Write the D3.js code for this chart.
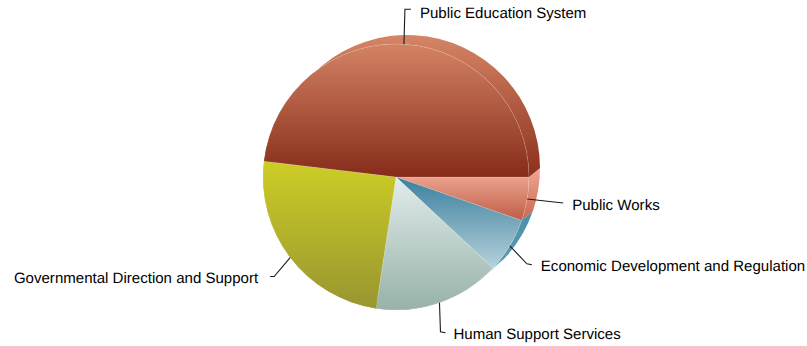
<!DOCTYPE html>
<html>
<head>
<meta charset="utf-8">
<script src="https://cdn.jsdelivr.net/npm/d3@7/dist/d3.min.js"></script>
<style>
html,body{margin:0;padding:0;background:#fff}
svg{display:block}
text{font-family:"Liberation Sans",Arial,sans-serif;font-size:15.05px;fill:#000;text-rendering:geometricPrecision}
</style>
</head>
<body>
<svg id="chart" width="807" height="346"></svg>
<script>
// Budget share by function, in percent, clockwise from three o'clock
const categories = ["Public Works", "Economic Development and Regulation", "Human Support Services", "Governmental Direction and Support", "Public Education System"];
const shares = [5.3, 6.7, 15.4, 24.5, 48.1];

// Face gradients [top, bottom] and extruded side gradients [top, bottom]
const faceColors = [["#EBA28C", "#C05C45"], ["#3A7F9E", "#B6D1DB"], ["#E1ECEB", "#97B2A8"], ["#CDCD26", "#989630"], ["#D48264", "#862C19"]];
const sideColors = [["#F0A792", "#C8694F"], ["#4A8EAB", "#5E9BB5"], ["#DCE8E6", "#A0B9B0"], ["#C8C92A", "#9C9A30"], ["#D68566", "#8A2F1B"]];

const width = 807, height = 346;
const cx = 396, cy = 177, radius = 133;
const depthX = 11, depthY = -9;

// Elbow and end of each leader, relative to where it leaves the pie
const leaderBend = [[36, 4], [17, 18], [1, 29], [-16, 19], [1, -35]];
const leaderEnd = [[36, 4], [22, 19], [6, 30], [-20, 19], [7, -35]];
const labelGap = [9, 9, 8, -12, 9];
const labelDrop = [7, 6.7, 6.5, 6.7, 8.5];

const svg = d3.select("#chart");
const defs = svg.append("defs");

function gradient(id, colors) {
  const g = defs.append("linearGradient").attr("id", id)
    .attr("x1", 0).attr("y1", 0).attr("x2", 0).attr("y2", 1);
  g.append("stop").attr("offset", 0).attr("stop-color", colors[0]);
  g.append("stop").attr("offset", 1).attr("stop-color", colors[1]);
}
faceColors.forEach((c, i) => gradient("face" + i, c));
sideColors.forEach((c, i) => gradient("side" + i, c));

const pie = d3.pie().sort(null).startAngle(Math.PI / 2).endAngle(Math.PI * 2.5);
const slices = pie(shares);
const arc = d3.arc().innerRadius(0).outerRadius(radius);

const onRim = (a, ox = 0, oy = 0) => [cx + ox + radius * Math.sin(a), cy + oy - radius * Math.cos(a)];

// Outer wall of a slice: the rim pushed along the depth vector and back again
function sidePath(d) {
  const p = d3.path();
  const [x0, y0] = onRim(d.startAngle);
  const [x1, y1] = onRim(d.startAngle, depthX, depthY);
  p.moveTo(x0, y0);
  p.lineTo(x1, y1);
  p.arc(cx + depthX, cy + depthY, radius, d.startAngle - Math.PI / 2, d.endAngle - Math.PI / 2);
  const [x2, y2] = onRim(d.endAngle);
  p.lineTo(x2, y2);
  p.arc(cx, cy, radius, d.endAngle - Math.PI / 2, d.startAngle - Math.PI / 2, true);
  p.closePath();
  return p.toString();
}

svg.append("g").selectAll("path").data(slices).join("path")
  .attr("d", sidePath)
  .attr("fill", (d, i) => `url(#side${i})`);

svg.append("g").attr("transform", `translate(${cx},${cy})`)
  .selectAll("path").data(slices).join("path")
  .attr("d", arc)
  .attr("fill", (d, i) => `url(#face${i})`)
  .attr("stroke", "#fff").attr("stroke-opacity", 0.2).attr("stroke-width", 0.7);

// Leader lines start on the rim at each slice's mid angle
const leaders = svg.append("g");
slices.forEach((d, i) => {
  const [x, y] = onRim((d.startAngle + d.endAngle) / 2);
  const bx = x + leaderBend[i][0], by = y + leaderBend[i][1];
  const ex = x + leaderEnd[i][0], ey = y + leaderEnd[i][1];
  leaders.append("path")
    .attr("d", d3.line()([[x, y], [bx, by], [ex, ey]]))
    .attr("fill", "none").attr("stroke", "#1a1a1a").attr("stroke-width", 1.1);
  leaders.append("text")
    .attr("x", ex + labelGap[i]).attr("y", ey + labelDrop[i])
    .attr("text-anchor", labelGap[i] < 0 ? "end" : "start")
    .text(categories[i]);
});
</script>
</body>
</html>
